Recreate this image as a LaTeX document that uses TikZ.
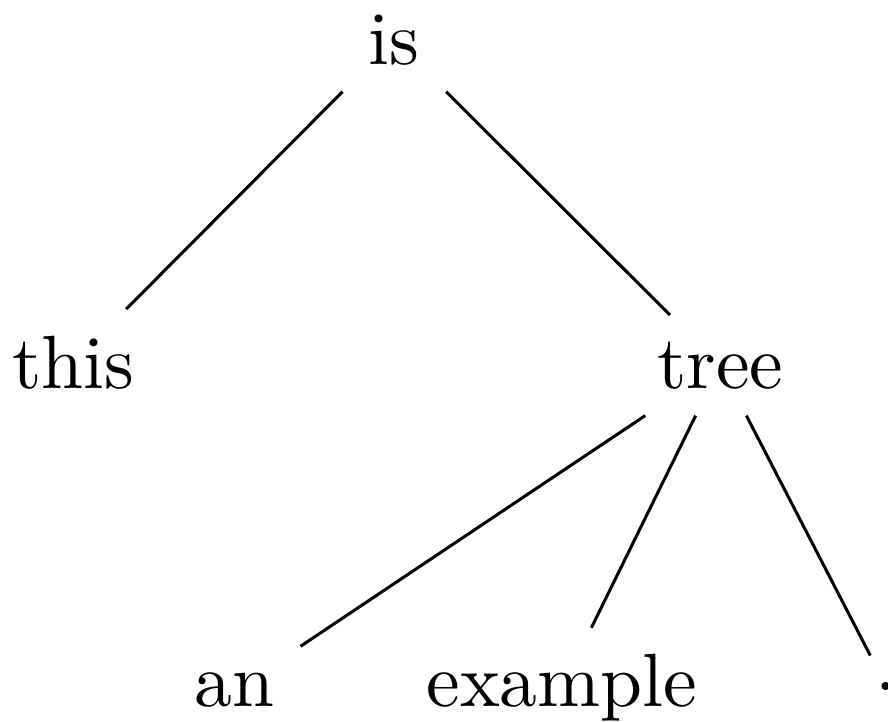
\documentclass[tikz,border=0pt]{standalone}
\usepackage{tikz}
\tikzset{
  word/.style={anchor=base,inner sep=3.33pt,font=\normalsize},
  branch/.style={line width=0.4pt,draw=black}
}
\begin{document}
\begin{tikzpicture}[x=1pt,y=1pt]
  \useasboundingbox (0,0) rectangle (117.6,-95.5);
  \node[word] (is) at (52.2,-8.5) {is};
  \node[word] (this) at (9.7,-51.4) {this};
  \node[word] (tree) at (95.4,-51.4) {tree};
  \node[word] (an) at (31.1,-93.6) {an};
  \node[word] (example) at (74.4,-93.6) {example};
  \node[word] (stop) at (117.35,-91.4) {.};
  \draw[branch] (is)--(this); \draw[branch] (is)--(tree);
  \draw[branch] (tree)--(an); \draw[branch] (tree)--(example); \draw[branch] (tree)--(stop);
\end{tikzpicture}
\end{document}
